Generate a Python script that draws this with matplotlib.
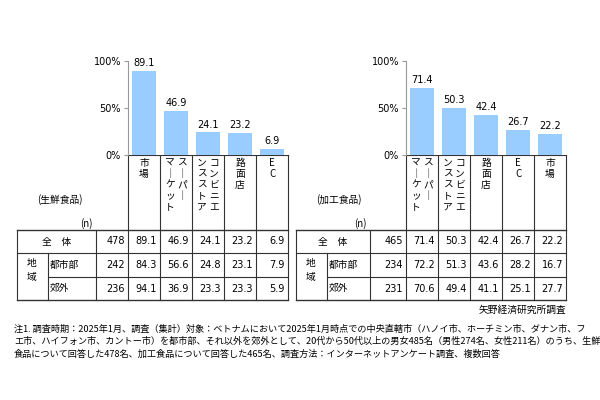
import matplotlib
matplotlib.use("Agg")
import matplotlib.pyplot as plt
from matplotlib.lines import Line2D

plt.rcParams["font.family"] = "Noto Sans CJK JP"

fresh_cats = [["市場"], ["スーパー", "マーケット"], ["コンビニエ", "ンスストア"], ["路面店"], ["EC"]]
fresh_total = [89.1, 46.9, 24.1, 23.2, 6.9]
fresh_urban = [84.3, 56.6, 24.8, 23.1, 7.9]
fresh_suburb = [94.1, 36.9, 23.3, 23.3, 5.9]
fresh_n = [478, 242, 236]

proc_cats = [["スーパー", "マーケット"], ["コンビニエ", "ンスストア"], ["路面店"], ["EC"], ["市場"]]
proc_total = [71.4, 50.3, 42.4, 26.7, 22.2]
proc_urban = [72.2, 51.3, 43.6, 28.2, 16.7]
proc_suburb = [70.6, 49.4, 41.1, 25.1, 27.7]
proc_n = [465, 234, 231]

yticks = [0, 50, 100]
ytick_labels = ["0%", "50%", "100%"]

W, H = 600, 400
fig = plt.figure(figsize=(6, 4), dpi=100)
ov = fig.add_axes([0, 0, 1, 1])
ov.set_xlim(0, W); ov.set_ylim(H, 0); ov.axis("off")

BAR = "#99ccff"
FS = 7

def line(x0, y0, x1, y1, lw=0.8):
    ov.add_line(Line2D([x0, x1], [y0, y1], color="#333333", lw=lw))

def panel(tl, nl, cl, cr, cats, tot, urb, sub, ns, label):
    # bars
    ax = fig.add_axes([cl / W, 1 - 155 / H, (cr - cl) / W, (155 - 61) / H])
    x = list(range(len(tot)))
    ax.bar(x, tot, width=0.75, color=BAR)
    for xi, v in zip(x, tot):
        ax.text(xi, v + 3, f"{v:.1f}", ha="center", va="bottom", fontsize=FS, family="DejaVu Sans")
    ax.set_xlim(-0.5, len(tot) - 0.5); ax.set_ylim(0, 100)
    ax.set_yticks(yticks); ax.set_yticklabels(ytick_labels, fontsize=FS, family="DejaVu Sans")
    ax.set_xticks([])
    for s in ["top", "right", "bottom"]:
        ax.spines[s].set_visible(False)
    ax.spines["left"].set_color("#999999")
    ax.tick_params(axis="y", length=3, color="#999999", pad=2)
    cw = (cr - cl) / len(tot)
    cols = [cl + i * cw for i in range(len(tot) + 1)]
    rows = [155, 230, 253, 277, 300]
    # header box
    for c in cols:
        line(c, 155, c, 300)
    line(cl, 155, cr, 155)
    line(tl, 230, cr, 230, 1.0)
    line(tl, 253, cr, 253)
    line(tl + 31, 277, cr, 277)
    line(tl, 300, cr, 300, 1.0)
    line(tl, 230, tl, 300); line(nl, 230, nl, 300); line(tl + 31, 253, tl + 31, 300)
    # headers (vertical text)
    for i, words in enumerate(cats):
        ncol = len(words)
        cx = (cols[i] + cols[i + 1]) / 2
        for j, w in enumerate(words):
            xx = cx + (ncol - 1) * 6 - j * 12
            for k, ch in enumerate(w):
                ch2 = "｜" if ch == "ー" else ch
                ov.text(xx, 163 + k * 11, ch2, ha="center", va="center", fontsize=FS)
    ov.text(nl - 3, 224, "(n)", ha="right", va="center", fontsize=FS)
    ov.text(tl + 20, 200, label, ha="left", va="center", fontsize=FS)
    # rows
    ov.text((tl + nl) / 2, 241.5, "全　体", ha="center", va="center", fontsize=FS)
    ov.text(tl + 15, 270, "地\n域", ha="center", va="center", fontsize=FS, linespacing=1.6)
    ov.text(tl + 33, 265, "都市部", ha="left", va="center", fontsize=FS)
    ov.text(tl + 33, 288.5, "郊外", ha="left", va="center", fontsize=FS)
    ys = [241.5, 265, 288.5]
    for r, (n, vals) in enumerate(zip(ns, [tot, urb, sub])):
        ov.text(cl - 3, ys[r], str(n), ha="right", va="center", fontsize=FS, family="DejaVu Sans")
        for i, v in enumerate(vals):
            ov.text(cols[i + 1] - 3, ys[r], f"{v:.1f}", ha="right", va="center", fontsize=FS, family="DejaVu Sans")

panel(17, 96, 128, 288, fresh_cats, fresh_total, fresh_urban, fresh_suburb, fresh_n, "(生鮮食品)")
panel(296, 370, 406, 566, proc_cats, proc_total, proc_urban, proc_suburb, proc_n, "(加工食品)")

ov.text(566, 310, "矢野経済研究所調査", ha="right", va="center", fontsize=FS)
note = ("注1. 調査時期：2025年1月、調査（集計）対象：ベトナムにおいて2025年1月時点での中央直轄市（ハノイ市、ホーチミン市、ダナン市、フ\n"
        "エ市、ハイフォン市、カントー市）を都市部、それ以外を郊外として、20代から50代以上の男女485名（男性274名、女性211名）のうち、生鮮\n"
        "食品について回答した478名、加工食品について回答した465名、調査方法：インターネットアンケート調査、複数回答")
ov.text(14, 325, note, ha="left", va="top", fontsize=6.6, linespacing=1.45)

fig.savefig("out.png", dpi=100, facecolor="white")
